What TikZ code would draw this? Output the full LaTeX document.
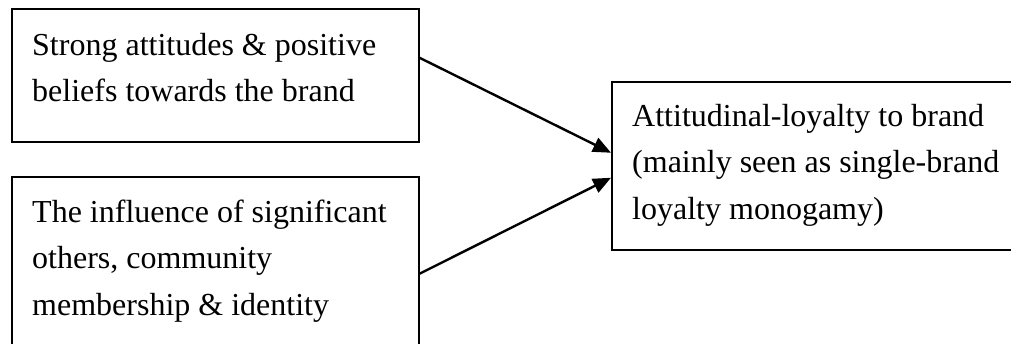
\documentclass[tikz,border=0pt]{standalone}
\usepackage{fontspec}
\setmainfont{Liberation Serif}
\usetikzlibrary{arrows.meta}
\tikzset{
  box/.style={draw=black, line width=1.5pt, rectangle, inner sep=0pt, anchor=north west},
  txt/.style={anchor=base west, align=left, inner sep=0pt, font=\fontsize{32}{46.7}\selectfont},
  conn/.style={line width=2.4pt, -{Triangle[length=18pt,width=15pt]}}
}
\begin{document}
\begin{tikzpicture}[x=1pt,y=-1pt]
\useasboundingbox (0,0) rectangle (1011,343);
\clip (0,0) rectangle (1011,343);
\node[box, minimum width=407pt, minimum height=133pt] (b1) at (11,8) {};
\node[box, minimum width=407pt, minimum height=200pt] (b2) at (11,176) {};
\node[box, minimum width=430pt, minimum height=168pt] (b3) at (611,81) {};
\node[txt] (t1) at (32,101.7) {Strong attitudes \& positive\\beliefs towards the brand};
\node[txt] (t2) at (32,315.4) {The influence of significant\\others, community\\membership \& identity};
\node[txt] (t3) at (632,219.4) {Attitudinal-loyalty to brand\\(mainly seen as single-brand\\loyalty monogamy)};
\draw[conn] ([yshift=17.5pt]b1.east) -- ([yshift=13pt]b3.west);
\draw[conn] ([yshift=3pt]b2.east) -- ([yshift=-12pt]b3.west);
\end{tikzpicture}
\end{document}
